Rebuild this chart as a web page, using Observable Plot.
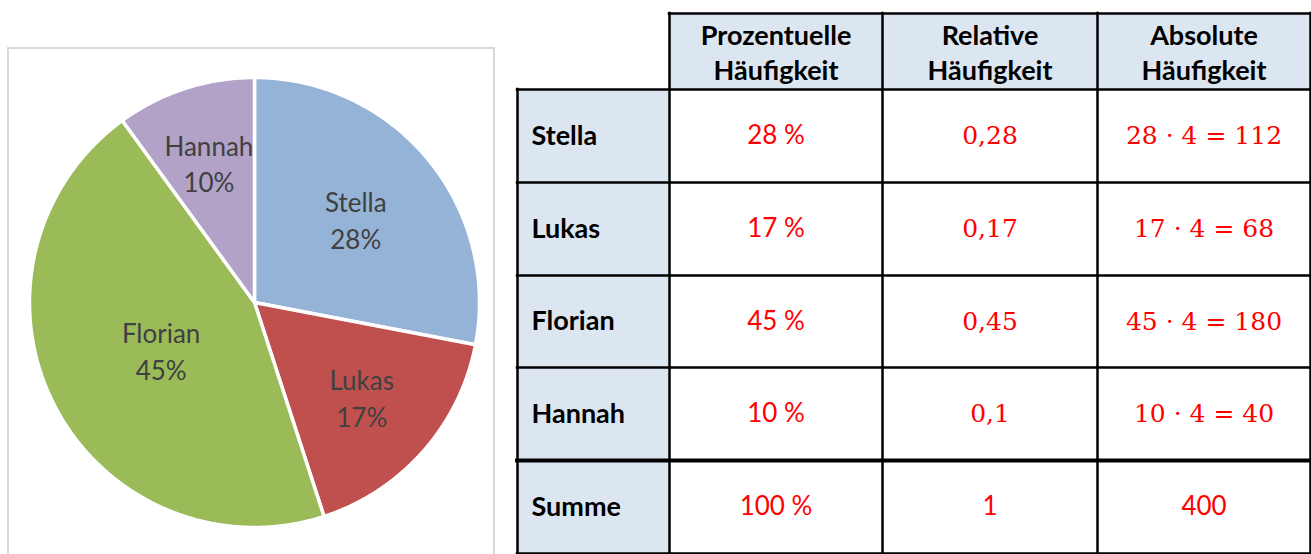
<!DOCTYPE html>
<html>
<head>
<meta charset="utf-8">
<script src="https://cdn.jsdelivr.net/npm/d3@7"></script>
<script src="https://cdn.jsdelivr.net/npm/@observablehq/plot@0.6"></script>
<style>
  html, body { margin: 0; padding: 0; background: #fff; }
  #wrap { position: relative; width: 1311px; height: 554px; overflow: hidden; background: #fff; }
  #pieBox { position: absolute; left: 7px; top: 47px; width: 484px; height: 540px; border: 2px solid #d9d9d9; box-sizing: content-box; }
  #pie { position: absolute; left: 0; top: 0; }
  #table { position: absolute; left: 505px; top: 0; }
</style>
</head>
<body>
<div id="wrap">
  <div id="pieBox"></div>
  <div id="pie"></div>
  <div id="table"></div>
</div>
<script>
// ---------- data ----------
const names = ["Stella", "Lukas", "Florian", "Hannah"];
const percents = [28, 17, 45, 10];
const total = 400;
const headers = ["Prozentuelle\nHäufigkeit", "Relative\nHäufigkeit", "Absolute\nHäufigkeit"];
const sumLabel = "Summe";
const palette = ["#95B3D7", "#C0504D", "#9BBB59", "#B2A2C7"];

// ---------- pie ----------
const slices = [];
let cum = 0;
names.forEach((name, i) => {
  const a0 = cum / 100 * 2 * Math.PI;
  cum += percents[i];
  const a1 = cum / 100 * 2 * Math.PI;
  slices.push({name, pct: percents[i], a0, a1});
});
const piePts = [];
for (const s of slices) {
  piePts.push({name: s.name, x: 0, y: 0});
  const steps = Math.max(8, Math.ceil((s.a1 - s.a0) / (Math.PI / 360)));
  for (let k = 0; k <= steps; k++) {
    const a = s.a0 + (s.a1 - s.a0) * k / steps;
    piePts.push({name: s.name, x: Math.sin(a), y: Math.cos(a)});
  }
}
const pieLabels = slices.map(s => {
  const mid = (s.a0 + s.a1) / 2, al = s.a1 - s.a0;
  const d = 4 * Math.sin(al / 2) / (3 * al);
  return {x: d * Math.sin(mid), y: d * Math.cos(mid), text: `${s.name}\n${s.pct}%`};
});

const pie = Plot.plot({
  width: 505, height: 554,
  marginLeft: 29, marginRight: 26, marginTop: 77, marginBottom: 27,
  x: {domain: [-1, 1], axis: null},
  y: {domain: [-1, 1], axis: null},
  color: {domain: names, range: palette},
  style: {background: "transparent"},
  marks: [
    Plot.line(piePts, {x: "x", y: "y", z: "name", fill: "name", stroke: "white", strokeWidth: 3.5,
      strokeLinejoin: "round", curve: "linear-closed"}),
    Plot.text(pieLabels, {x: "x", y: "y", text: "text", fill: "#404040", fontSize: 26,
      lineHeight: 1.42, fontFamily: "Lato"})
  ]
});
document.getElementById("pie").appendChild(pie);

// ---------- table ----------
const rowLabels = [...names, sumLabel];
const fmtRel = v => String(v / 100).replace(".", ",");
const pctTexts = [...percents.map(p => `${p} %`), `${d3.sum(percents)} %`];
const relTexts = [...percents.map(fmtRel), String(d3.sum(percents) / 100)];
const absTexts = [...percents.map(p => `${p} · ${total / 100} = ${p * total / 100}`), String(total)];

const fills = [];
headers.forEach((h, j) => fills.push({x1: j + 1, x2: j + 2, y1: 0, y2: 1}));
rowLabels.forEach((r, i) => fills.push({x1: 0, x2: 1, y1: i + 1, y2: i + 2}));

const vLines = [{x: 0, y1: 1, y2: 6}];
for (let j = 1; j <= 4; j++) vLines.push({x: j, y1: 0, y2: 6});
const hLines = [{y: 0, x1: 1, x2: 4}];
for (let i = 1; i <= 6; i++) hLines.push({y: i, x1: 0, x2: 4, w: i === 5 ? 4 : 2.5});

const headerTexts = headers.map((h, j) => ({x: j + 1.5, y: 0.5, text: h}));
const rowTexts = rowLabels.map((r, i) => ({x: 0, y: i + 1.5, text: r}));
const sansVals = [], serifVals = [];
rowLabels.forEach((r, i) => {
  const isSum = i === rowLabels.length - 1;
  sansVals.push({x: 1.5, y: i + 1.5, text: pctTexts[i]});
  (isSum ? sansVals : serifVals).push({x: 2.5, y: i + 1.5, text: relTexts[i]});
  (isSum ? sansVals : serifVals).push({x: 3.5, y: i + 1.5, text: absTexts[i]});
});

const table = Plot.plot({
  width: 806, height: 554,
  margin: 0,
  x: {type: "linear", domain: [0, 1, 2, 3, 4], range: [12, 164, 377, 592, 805], axis: null},
  y: {type: "linear", domain: [0, 1, 2, 3, 4, 5, 6], range: [13, 89, 182, 275, 367, 460, 553], axis: null},
  style: {background: "transparent"},
  marks: [
    Plot.rect(fills, {x1: "x1", x2: "x2", y1: "y1", y2: "y2", fill: "#DCE6F1"}),
    Plot.ruleX(vLines, {x: "x", y1: "y1", y2: "y2", stroke: "black", strokeWidth: 2.5, strokeLinecap: "square"}),
    Plot.ruleY(hLines, {y: "y", x1: "x1", x2: "x2", stroke: "black", strokeWidth: d => d.w ?? 2.5, strokeLinecap: "square"}),
    Plot.text(headerTexts, {x: "x", y: "y", text: "text", fontSize: 27, fontWeight: "bold", fontFamily: "Lato",
      lineHeight: 1.3, fill: "black"}),
    Plot.text(rowTexts, {x: "x", y: "y", text: "text", fontSize: 27, fontWeight: "bold", fontFamily: "Lato",
      textAnchor: "start", dx: 14, fill: "black"}),
    Plot.text(sansVals, {x: "x", y: "y", text: "text", fontSize: 26, fontFamily: "Lato", fill: "#FF0000"}),
    Plot.text(serifVals, {x: "x", y: "y", text: "text", fontSize: 25, fontFamily: "DejaVu Serif", fill: "#FF0000"})
  ]
});
document.getElementById("table").appendChild(table);
</script>
</body>
</html>
